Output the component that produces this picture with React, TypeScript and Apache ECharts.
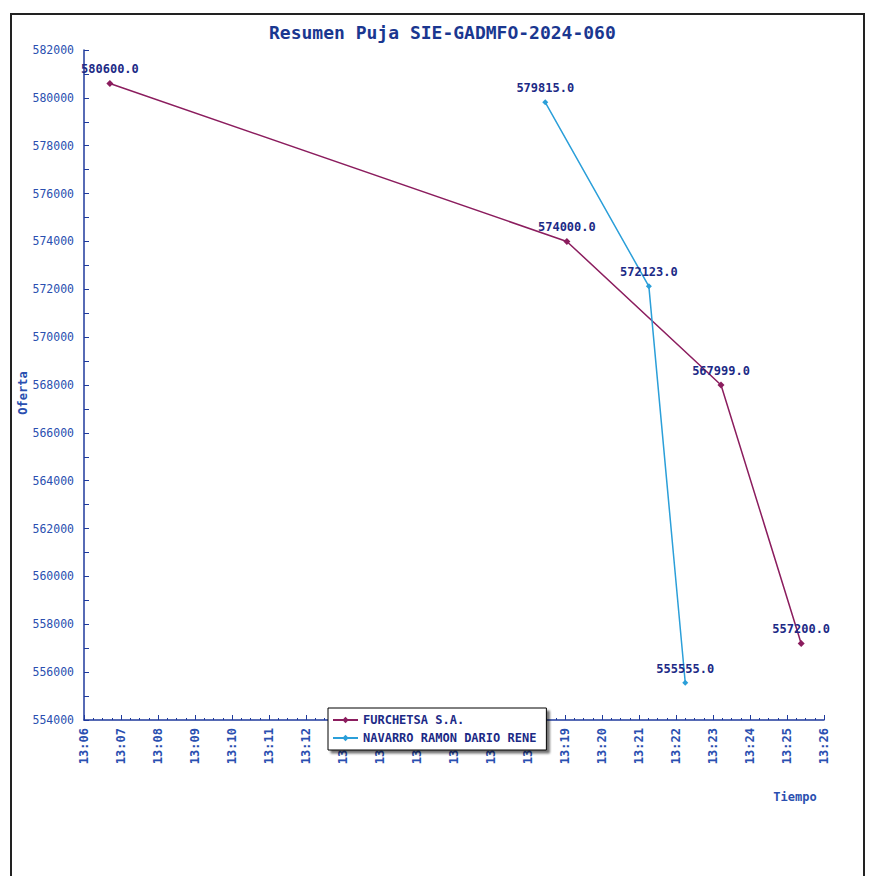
import React, { useEffect, useRef } from "react";
import * as echarts from "echarts";

const titleText = "Resumen Puja SIE-GADMFO-2024-060";
const seriesNames = ["FURCHETSA S.A.", "NAVARRO RAMON DARIO RENE"];
const furchetsaTimes = ["13:06:42", "13:19:03", "13:23:13", "13:25:23"];
const furchetsaValues = [580600, 574000, 567999, 557200];
const navarroTimes = ["13:18:28", "13:21:16", "13:22:15"];
const navarroValues = [579815, 572123, 555555];
const xMinLabel = "13:06";
const xMaxLabel = "13:26";
const yMin = 554000;
const yMax = 582000;
const yStep = 2000;

const toMinutes = (t: string) => {
  const [h, m, s] = t.split(":").map(Number);
  return h * 60 + m + (s || 0) / 60;
};
const fmtMinutes = (v: number) => {
  const h = Math.floor(v / 60);
  const m = Math.round(v - h * 60);
  return `${h}:${m < 10 ? "0" + m : m}`;
};

const MONO = "'DejaVu Sans Mono', monospace";
const TICK_COLOR = "#2a4fb0";
const LABEL_COLOR = "#1c2a86";
const AXIS_COLOR = "#1f3a9c";

export default function App() {
  const ref = useRef<HTMLDivElement>(null);
  useEffect(() => {
    if (!ref.current) return;
    const chart = echarts.init(ref.current, null, { renderer: "svg" });
    const fData = furchetsaTimes.map((t, i) => [toMinutes(t), furchetsaValues[i]]);
    const nData = navarroTimes.map((t, i) => [toMinutes(t), navarroValues[i]]);
    const dataLabel = {
      show: true,
      position: "top" as const,
      distance: 5,
      color: LABEL_COLOR,
      fontFamily: MONO,
      fontWeight: "bold" as const,
      fontSize: 12,
      formatter: (p: any) => Number(p.value[1]).toFixed(1),
    };
    chart.setOption({
      animation: false,
      backgroundColor: "#ffffff",
      title: {
        text: titleText,
        left: 264,
        top: 18,
        textStyle: {
          color: "#1a3790",
          fontFamily: MONO,
          fontWeight: "bold",
          fontSize: 18,
        },
      },
      graphic: [
        {
          type: "rect",
          shape: { x: 11, y: 14, width: 853, height: 880 },
          style: { fill: "none", stroke: "#222222", lineWidth: 2 },
          z: 100,
          silent: true,
        },
        {
          type: "text",
          x: 795,
          y: 797,
          style: {
            text: "Tiempo",
            fill: TICK_COLOR,
            font: `bold 12px ${MONO}`,
            align: "center",
            verticalAlign: "middle",
          },
        },
        {
          type: "text",
          x: 23,
          y: 393,
          rotation: Math.PI / 2,
          style: {
            text: "Oferta",
            fill: TICK_COLOR,
            font: `bold 12px ${MONO}`,
            align: "center",
            verticalAlign: "middle",
          },
        },
      ],
      grid: { left: 84, right: 45, top: 50, bottom: 156, containLabel: false },
      legend: {
        orient: "vertical",
        left: 328,
        top: 708,
        data: seriesNames,
        backgroundColor: "#ffffff",
        borderColor: "#000000",
        borderWidth: 1,
        padding: [6, 10, 6, 4],
        itemGap: 6,
        itemWidth: 25,
        itemHeight: 8,
        shadowColor: "rgba(0,0,0,0.55)",
        shadowOffsetX: 3,
        shadowOffsetY: 3,
        shadowBlur: 2,
        textStyle: {
          color: LABEL_COLOR,
          fontFamily: MONO,
          fontWeight: "bold",
          fontSize: 12,
        },
        z: 10,
      },
      xAxis: {
        type: "value",
        min: toMinutes(xMinLabel),
        max: toMinutes(xMaxLabel),
        interval: 1,
        axisLine: { show: true, onZero: false, lineStyle: { color: AXIS_COLOR, width: 1.5 } },
        axisTick: { show: true, inside: true, length: 5, lineStyle: { color: AXIS_COLOR } },
        minorTick: { show: true, splitNumber: 4, length: 2, lineStyle: { color: AXIS_COLOR } },
        splitLine: { show: false },
        axisLabel: {
          rotate: 90,
          margin: 8,
          color: TICK_COLOR,
          fontFamily: MONO,
          fontWeight: "bold",
          fontSize: 12,
          formatter: (v: number) => fmtMinutes(v),
        },
      },
      yAxis: {
        type: "value",
        min: yMin,
        max: yMax,
        interval: yStep,
        axisLine: { show: true, lineStyle: { color: AXIS_COLOR, width: 1.5 } },
        axisTick: { show: true, inside: true, length: 5, lineStyle: { color: AXIS_COLOR } },
        minorTick: { show: true, splitNumber: 2, length: 5, lineStyle: { color: AXIS_COLOR } },
        splitLine: { show: false },
        axisLabel: {
          margin: 10,
          color: TICK_COLOR,
          fontFamily: MONO,
          fontSize: 11.5,
          formatter: (v: number) => String(v),
        },
      },
      series: [
        {
          name: seriesNames[0],
          type: "line",
          data: fData,
          color: "#8b1d5e",
          symbol: "diamond",
          symbolSize: 7,
          showAllSymbol: true,
          lineStyle: { width: 1.5, color: "#8b1d5e" },
          label: dataLabel,
        },
        {
          name: seriesNames[1],
          type: "line",
          data: nData,
          color: "#2b9fd9",
          symbol: "diamond",
          symbolSize: 6,
          showAllSymbol: true,
          lineStyle: { width: 1.5, color: "#2b9fd9" },
          label: dataLabel,
        },
      ],
    });
    return () => chart.dispose();
  }, []);
  return (
    <div
      ref={ref}
      style={{ position: "absolute", left: 0, top: 0, width: 869, height: 876 }}
    />
  );
}
